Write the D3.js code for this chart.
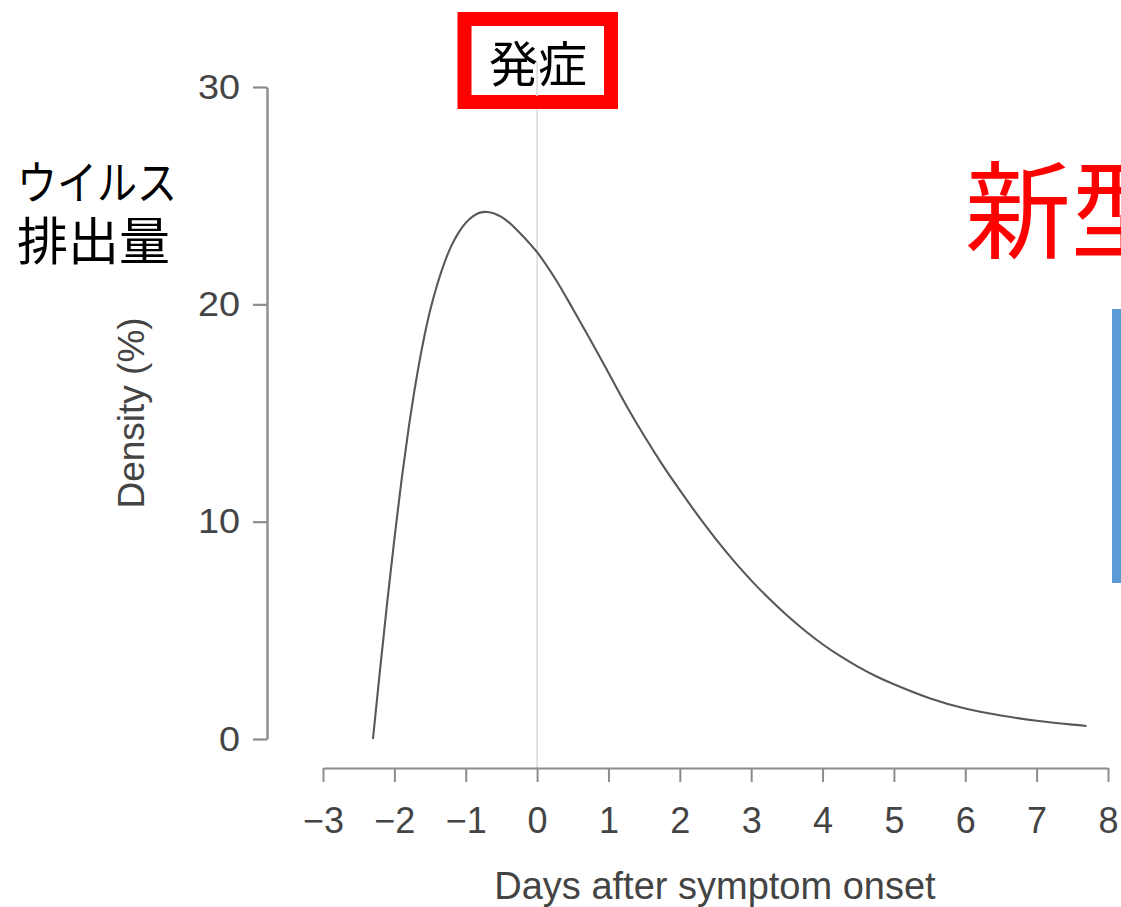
<!DOCTYPE html>
<html>
<head>
<meta charset="utf-8">
<script src="https://cdn.jsdelivr.net/npm/d3@7"></script>
<style>
  html, body { margin: 0; padding: 0; background: #fff; }
  svg { display: block; }
</style>
</head>
<body>
<svg id="chart" width="1121" height="907"></svg>
<script>
// ---- data ----
const days = [-2.3, -2.2, -2.1, -2.0, -1.9, -1.8, -1.7, -1.6, -1.5, -1.4, -1.3, -1.2, -1.1, -1.0,
  -0.9, -0.8, -0.7, -0.6, -0.5, -0.4, -0.3, -0.2, -0.1, 0, 0.25, 0.5, 0.75, 1.0, 1.25, 1.5,
  1.75, 2.0, 2.25, 2.5, 2.75, 3.0, 3.25, 3.5, 3.75, 4.0, 4.25, 4.5, 4.75, 5.0, 5.5, 6.0, 6.5, 7.0, 7.5, 7.7];
const density = [0, 3.2, 6.3, 9.2, 11.9, 14.3, 16.4, 18.2, 19.7, 20.9, 21.9, 22.7, 23.3, 23.75,
  24.05, 24.22, 24.25, 24.18, 24.02, 23.78, 23.48, 23.14, 22.78, 22.4, 21.2, 19.8, 18.35, 16.85, 15.35, 13.95,
  12.65, 11.45, 10.3, 9.22, 8.22, 7.3, 6.46, 5.69, 4.99, 4.36, 3.81, 3.32, 2.89, 2.52, 1.88, 1.40, 1.08, 0.84, 0.66, 0.6];
const xTicks = [-3, -2, -1, 0, 1, 2, 3, 4, 5, 6, 7, 8];
const yTicks = [0, 10, 20, 30];
const xTitle = "Days after symptom onset";
const yTitle = "Density (%)";
const onsetLabel = "発症";
const leftLabel = ["ウイルス", "排出量"];
const rightLabel = "新型";

const svg = d3.select("#chart");
const latin = "'Liberation Sans', Arial, Helvetica, sans-serif";
const cjk = "'Noto Sans CJK JP', 'Noto Sans CJK SC', sans-serif";

const x = d3.scaleLinear().domain([-3, 8]).range([323, 1108]);
const y = d3.scaleLinear().domain([0, 30]).range([739, 87]);

// vertical onset line
svg.append("line")
  .attr("x1", x(0)).attr("x2", x(0))
  .attr("y1", 58).attr("y2", 768)
  .attr("stroke", "#dcdcdc").attr("stroke-width", 1.6);

// y axis
const yAxis = svg.append("g")
  .attr("transform", "translate(267,0)")
  .call(d3.axisLeft(y).tickValues(yTicks).tickSize(14).tickPadding(13).tickSizeOuter(0));
yAxis.select(".domain").attr("stroke", "#8c8c8c").attr("stroke-width", 2.4);
yAxis.selectAll(".tick line").attr("stroke", "#8c8c8c").attr("stroke-width", 2.2);
yAxis.selectAll(".tick text")
  .attr("font-family", latin).attr("font-size", 35).attr("fill", "#444")
  .attr("transform", "scale(1.08,1)").attr("x", -13 / 1.08 - 14 / 1.08);

// x axis
const xAxis = svg.append("g")
  .attr("transform", "translate(0,768)")
  .call(d3.axisBottom(x).tickValues(xTicks).tickSize(14).tickPadding(25).tickSizeOuter(0)
    .tickFormat(d => d < 0 ? "\u2212" + Math.abs(d) : String(d)));
xAxis.select(".domain").attr("stroke", "#8c8c8c").attr("stroke-width", 2.2);
xAxis.selectAll(".tick line").attr("stroke", "#8c8c8c").attr("stroke-width", 2);
xAxis.selectAll(".tick text")
  .attr("font-family", latin).attr("font-size", 36).attr("fill", "#444");

// axis titles
svg.append("text")
  .attr("x", 715).attr("y", 899)
  .attr("text-anchor", "middle")
  .attr("font-family", latin).attr("font-size", 38).attr("fill", "#444")
  .text(xTitle);
svg.append("text")
  .attr("transform", "translate(144,413) rotate(-90)")
  .attr("text-anchor", "middle")
  .attr("font-family", latin).attr("font-size", 37).attr("fill", "#444")
  .text(yTitle);

// density curve
const pts = days.map((d, i) => [d, density[i]]);
svg.append("path")
  .datum(pts)
  .attr("fill", "none")
  .attr("stroke", "#585858")
  .attr("stroke-width", 2.1)
  .attr("stroke-linejoin", "round")
  .attr("d", d3.line().x(d => x(d[0])).y(d => y(d[1])).curve(d3.curveCatmullRom.alpha(0.5)));

// onset red box
svg.append("rect")
  .attr("x", 464.5).attr("y", 19).attr("width", 146.5).attr("height", 83)
  .attr("fill", "#fff").attr("stroke", "#ff0000").attr("stroke-width", 14);
svg.append("line")
  .attr("x1", x(0)).attr("x2", x(0))
  .attr("y1", 62).attr("y2", 96)
  .attr("stroke", "#dcdcdc").attr("stroke-width", 1.6);
svg.append("text")
  .attr("x", 538).attr("y", 82)
  .attr("text-anchor", "middle")
  .attr("font-family", cjk).attr("font-size", 49).attr("fill", "#000")
  .text(onsetLabel);

// left label
svg.append("text")
  .attr("x", 17).attr("y", 199)
  .attr("font-family", cjk).attr("font-size", 46).attr("fill", "#000")
  .attr("textLength", 160).attr("lengthAdjust", "spacingAndGlyphs")
  .text(leftLabel[0]);
svg.append("text")
  .attr("x", 17).attr("y", 260)
  .attr("font-family", cjk).attr("font-size", 51).attr("fill", "#000")
  .text(leftLabel[1]);

// right red text (cut off)
svg.append("text")
  .attr("x", 965).attr("y", 250)
  .attr("font-family", cjk).attr("font-size", 106).attr("fill", "#ff0000")
  .text(rightLabel);

// blue bar at right edge
svg.append("rect")
  .attr("x", 1112).attr("y", 309).attr("width", 20).attr("height", 274)
  .attr("fill", "#5b9bd5");
</script>
</body>
</html>
